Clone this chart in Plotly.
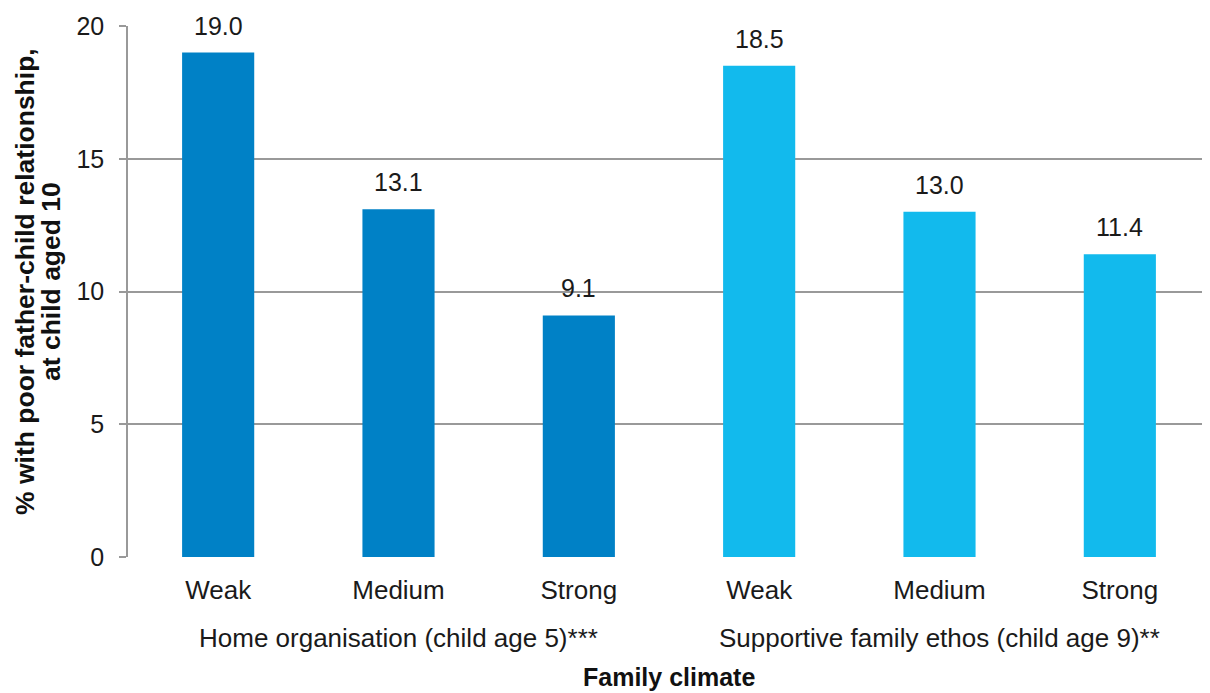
import plotly.graph_objects as go

levels = ["Weak", "Medium", "Strong"]
groups = ["Home organisation (child age 5)***", "Supportive family ethos (child age 9)**"]
home_values = [19.0, 13.1, 9.1]
ethos_values = [18.5, 13.0, 11.4]
y_ticks = [0, 5, 10, 15, 20]
y_title_lines = ["% with poor father-child relationship,", "at child aged 10"]
x_title = "Family climate"

FONT = "Liberation Sans, Arial, sans-serif"
FS = 25
colors = ["#0081C6", "#12BAED"]

# page body has an 8px default margin: compensate so the plot lands where the reference has it
OFF = 8
W, H = 1210 - OFF, 693 - OFF
PLOT_LEFT, PLOT_TOP, PLOT_BOTTOM = 128, 26, 557  # screen pixels in the reference
plot_h = PLOT_BOTTOM - PLOT_TOP
plot_w = 1210 - PLOT_LEFT

fig = go.Figure()
series = [home_values, ethos_values]
for gi, vals in enumerate(series):
    xs = [gi * len(levels) + i for i in range(len(levels))]
    fig.add_trace(go.Bar(
        x=xs, y=vals,
        marker=dict(color=colors[gi], line=dict(width=0)),
        width=0.4,
        showlegend=False,
    ))
    for x, v in zip(xs, vals):
        fig.add_annotation(
            x=x, y=v, xref="x", yref="y", yanchor="bottom",
            text=f"{v:.1f}", showarrow=False, yshift=11,
            font=dict(family=FONT, size=FS, color="#1a1a1a"),
        )

tickvals = list(range(len(levels) * len(groups)))
ticktext = levels * len(groups)

fig.update_layout(
    width=W, height=H,
    margin=dict(l=PLOT_LEFT - OFF, r=0, t=PLOT_TOP - OFF, b=H - (PLOT_BOTTOM - OFF)),
    plot_bgcolor="white", paper_bgcolor="white",
    font=dict(family=FONT, size=FS, color="#1a1a1a"),
    bargap=0.6,
    xaxis=dict(
        tickmode="array", tickvals=tickvals, ticktext=ticktext,
        range=[-0.5, len(tickvals) - 0.5],
        showgrid=False, zeroline=False, showline=False,
        ticks="", ticklabelstandoff=15,
        tickfont=dict(family=FONT, size=26, color="#1a1a1a"),
    ),
    yaxis=dict(
        range=[0, 20], tickmode="array", tickvals=y_ticks,
        showgrid=True, gridcolor="#999999", gridwidth=1.5,
        zeroline=False, showline=True, linecolor="#999999", linewidth=1.5,
        ticks="outside", ticklen=7, tickcolor="#999999", tickwidth=1.5,
        ticklabelstandoff=10,
        tickfont=dict(family=FONT, size=FS, color="#1a1a1a"),
    ),
)

# y-axis title, two rotated lines
for line, cx in zip(y_title_lines, [25, 51]):
    fig.add_annotation(
        x=(cx - PLOT_LEFT) / plot_w, xref="paper", xanchor="center",
        y=(PLOT_BOTTOM - 282) / plot_h, yref="paper", yanchor="middle",
        text=f"<b>{line}</b>", textangle=-90, showarrow=False,
        font=dict(family=FONT, size=26.5, color="#111111"),
    )

for gi, g in enumerate(groups):
    fig.add_annotation(
        x=gi * len(levels) + (len(levels) - 1) / 2, xref="x",
        y=-(638 - PLOT_BOTTOM) / plot_h, yref="paper", yanchor="middle",
        text=g, showarrow=False,
        font=dict(family=FONT, size=26, color="#1a1a1a"),
    )

fig.add_annotation(
    x=0.5, xref="paper", y=-(677 - PLOT_BOTTOM) / plot_h, yref="paper", yanchor="middle",
    text=f"<b>{x_title}</b>", showarrow=False,
    font=dict(family=FONT, size=25, color="#111111"),
)

fig.write_html("out.html")
